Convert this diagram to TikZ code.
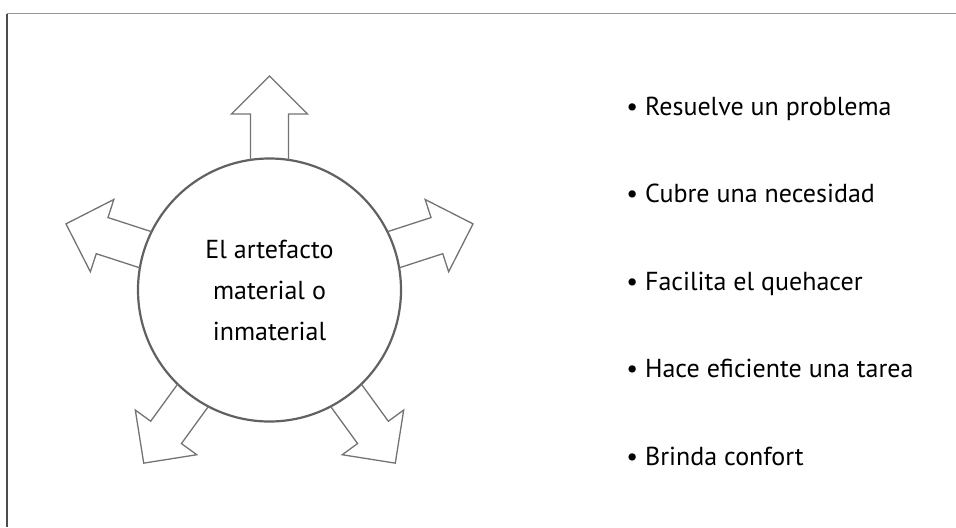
\documentclass[tikz,border=0pt]{standalone}
\usepackage{fontspec}
\setmainfont{PT Sans}
\usepackage{tikz}
\usetikzlibrary{positioning}

\begin{document}
\begin{tikzpicture}[x=0.5pt, y=0.5pt,
  framebar/.style = {line width=0.8pt},
  bigcircle/.style = {shape=circle, draw=black!62, line width=1.1pt,
    fill=white, minimum size=131.5pt, inner sep=0pt, align=center,
    font=\fontsize{13}{20.5}\selectfont},
  fatarrow/.style = {draw=black!55, line width=0.65pt, line join=miter},
  itemtext/.style = {anchor=base west, inner sep=0pt,
    font=\fontsize{13}{15}\selectfont}
  ]
  \useasboundingbox (0,0) rectangle (956,527);
  % marco
  \coordinate (ftl) at (7,513.5);
  \coordinate (ftr) at (956,513.5);
  \coordinate (fbl) at (7,0);
  \draw[framebar, black!40] (ftl) -- (ftr);
  \draw[framebar, black!70] (ftl) -- (fbl);
  % circulo central
  \node[bigcircle] (art) at (269.5,237) {El artefacto\\ material o\\ inmaterial};
  \foreach \ang in {90,18,162,-54,-126}
    \draw[fatarrow, shift={(art.center)}, rotate=\ang]
      (130.1,-19) -- (176,-19) -- (176,-38) -- (214,0)
      -- (176,38) -- (176,19) -- (130.1,19);
  % lista
  \foreach \i/\txt in {1/Resuelve un problema, 2/Cubre una necesidad,
      3/Facilita el quehacer, 4/Hace eficiente una tarea, 5/Brinda confort}
    \node[itemtext] (item\i) at (626,412-87.5*\i+87.5) {\textbullet\ \txt};
\end{tikzpicture}
\end{document}
